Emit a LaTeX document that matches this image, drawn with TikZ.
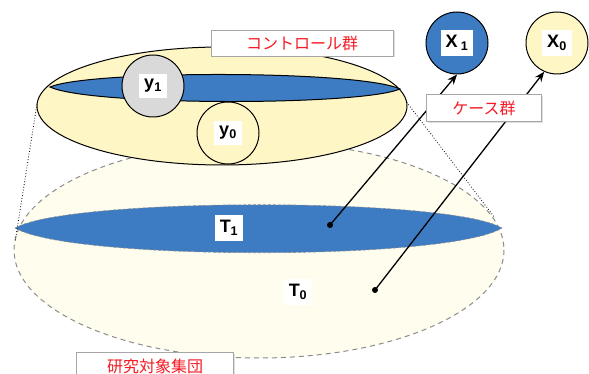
\documentclass[tikz,border=0pt]{standalone}
\usepackage{fontspec}
\setmainfont{Liberation Sans}
\newfontfamily\jpfont{Noto Sans CJK JP}
\usetikzlibrary{arrows.meta,positioning,calc,shadows}
\definecolor{popFill}{HTML}{FFFDEE}
\definecolor{ctrlFill}{HTML}{FFF6C6}
\definecolor{caseBlue}{HTML}{3D7BC3}
\definecolor{sampGray}{HTML}{D9D9D9}
\definecolor{dashGray}{HTML}{8C8C8C}
\definecolor{boxLine}{HTML}{A6A6A6}
\definecolor{labelRed}{HTML}{F51A24}
\setlength{\fboxsep}{5pt}

\begin{document}
\begin{tikzpicture}[x=1pt,y=-1pt,font=\bfseries\fontsize{18}{20}\selectfont,
    grp/.style={draw,circle,line width=1pt,minimum size=62pt,inner sep=0pt},
    tag/.style={fill=white,inner sep=5pt},
    jpbox/.style={draw=boxLine,fill=white,text=labelRed,
      drop shadow={opacity=0.25,shadow xshift=1.5pt,shadow yshift=-1.5pt},
      font=\jpfont\fontsize{16}{18}\selectfont,inner sep=0pt},
    dot/.style={circle,fill=black,inner sep=0pt,minimum size=6pt}]
  \useasboundingbox (0,0) rectangle (589,374);
  % study population
  \draw[dashGray,dashed,line width=1pt,dash pattern=on 5pt off 4pt,fill=popFill]
    (259,250) ellipse [x radius=245,y radius=108];
  \draw[dashGray,dashed,line width=0.6pt,dash pattern=on 3pt off 2pt,fill=caseBlue]
    (15,228) .. controls (70,197) and (450,197) .. (502,228)
    .. controls (450,261) and (70,261) .. (15,228) -- cycle;
  \node[tag] (t1) at (229,228) {T\textsubscript{1}};
  \node[tag] (t0) at (298,292) {T\textsubscript{0}};
  % dotted projection
  \coordinate (ctrlL) at (37,104);
  \coordinate (ctrlR) at (405,100);
  \coordinate (popL) at (15,242);
  \coordinate (popR) at (495,218);
  \draw[dotted,line width=0.8pt] (ctrlL) -- (popL);
  \draw[dotted,line width=0.8pt] (ctrlR) -- (popR);
  % control group
  \draw[line width=1pt,fill=ctrlFill] (222,106) ellipse [x radius=185,y radius=59];
  \draw[line width=1pt,fill=caseBlue]
    (50,87) .. controls (90,70) and (360,70) .. (400,89)
    .. controls (360,106) and (90,106) .. (50,87) -- cycle;
  \node[grp,fill=sampGray] (y1) at (153,86)
    {\colorbox{white}{y\textsubscript{1}}};
  \node[grp,fill=ctrlFill] (y0) at (228,133)
    {\colorbox{white}{y\textsubscript{0}}};
  % exposures
  \node[grp,fill=caseBlue] (x1) at (457,43)
    {\colorbox{white}{X\,\textsubscript{1}}};
  \node[grp,fill=ctrlFill] (x0) at (557,43)
    {\colorbox{white}{X\textsubscript{0}}};
  \node[dot] (d1) at (330,225) {};
  \node[dot] (d0) at (375,290) {};
  \draw[line width=1.3pt,-{Stealth[length=10pt,width=8pt]}] (d1.center) -- (x1.south);
  \draw[line width=1.3pt,-{Stealth[length=10pt,width=8pt]}] (d0.center) -- (x0.-114);
  % labels
  \node[jpbox,minimum width=182pt,minimum height=26pt] (ctrl) at (302,43) {コントロール群};
  \node[jpbox,minimum width=115pt,minimum height=27pt] (case) at (484,108) {ケース群};
  \node[jpbox,minimum width=157pt,minimum height=28pt] (pop) at (155,366) {研究対象集団};
\end{tikzpicture}
\end{document}
